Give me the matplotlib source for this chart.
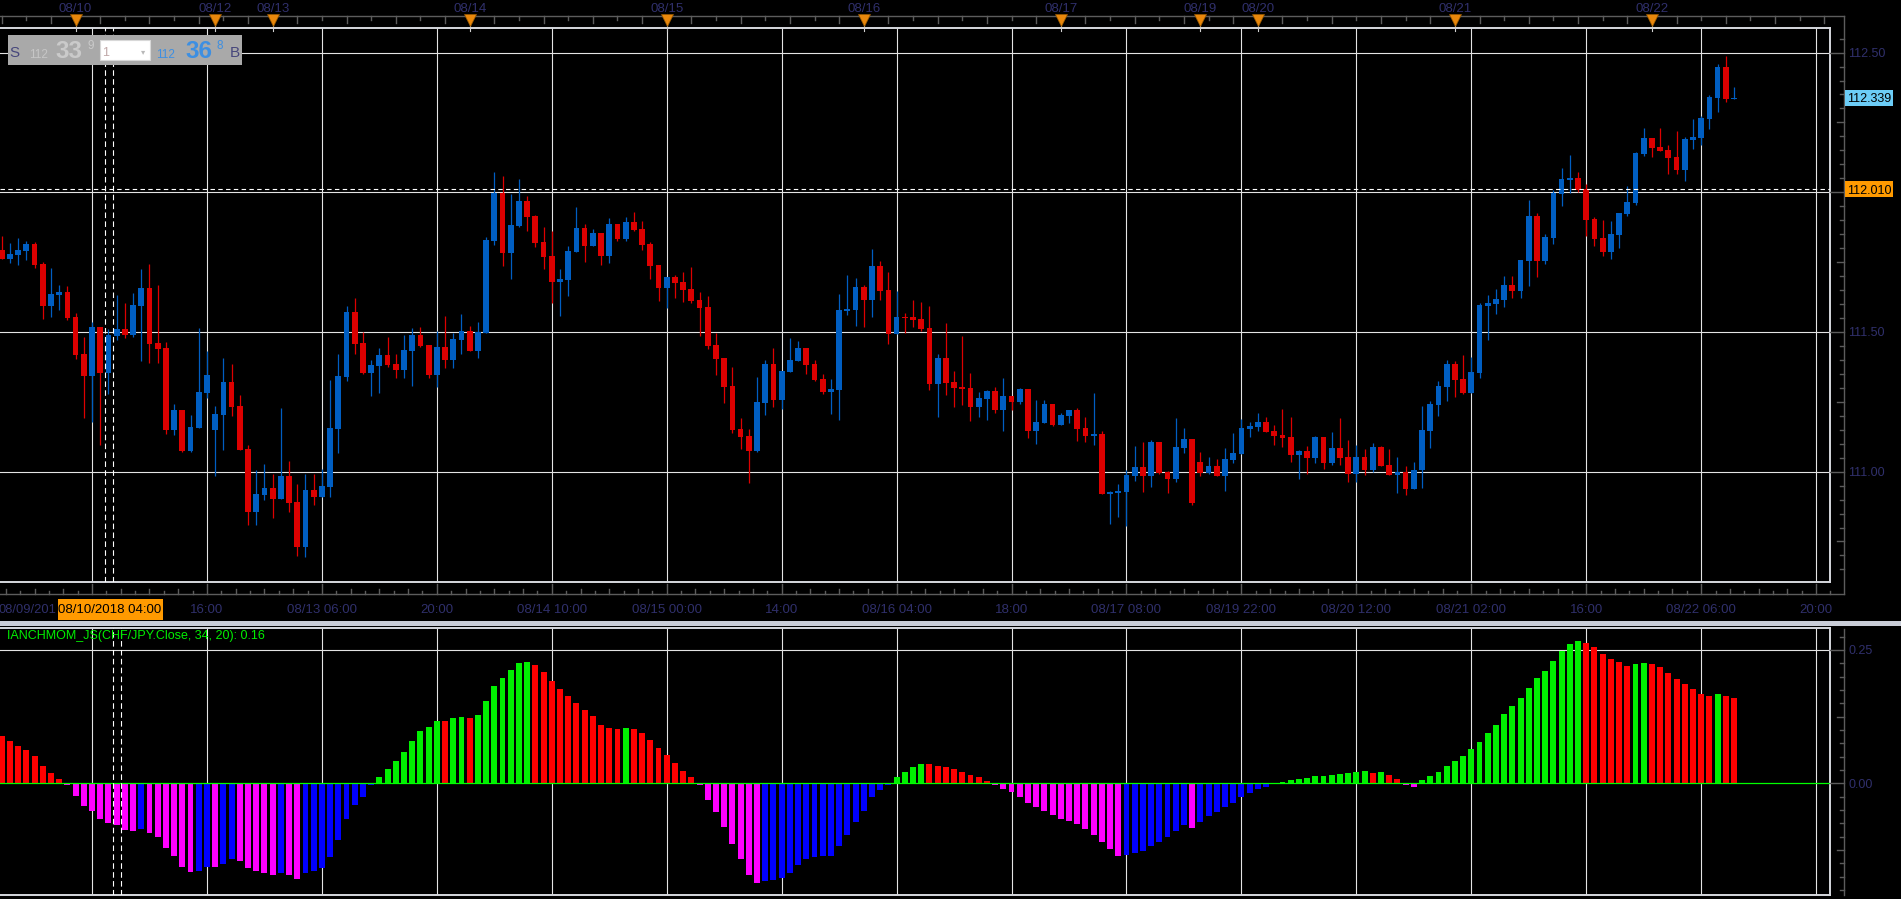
import numpy as np
import matplotlib
matplotlib.use("Agg")
import matplotlib.pyplot as plt
import matplotlib.transforms as mtransforms
from matplotlib.lines import Line2D
from matplotlib.patches import Rectangle

plt.rcParams['font.family'] = ['Liberation Sans', 'DejaVu Sans']

# ---------------- DATA (hourly CHF/JPY candles, index 0 = 08/10 00:00) ----------------
FIRST_INDEX = -9

opens = [
    111.793, 111.761, 111.776, 111.791, 111.815, 111.743, 111.593, 111.632, 111.643, 111.554,
    111.421, 111.342, 111.518, 111.353, 111.486, 111.511, 111.489, 111.593, 111.657, 111.461,
    111.443, 111.149, 111.221, 111.074, 111.156, 111.282, 111.149, 111.203, 111.321, 111.235,
    111.081, 110.856, 110.917, 110.942, 110.902, 110.985, 110.891, 110.730, 110.934, 110.909,
    110.945, 111.153, 111.339, 111.572, 111.461, 111.353, 111.378, 111.418, 111.385, 111.364,
    111.432, 111.489, 111.453, 111.346, 111.446, 111.400, 111.471, 111.504, 111.432, 111.496,
    111.826, 111.999, 111.782, 111.879, 111.968, 111.915, 111.822, 111.771, 111.679, 111.686,
    111.786, 111.872, 111.807, 111.854, 111.771, 111.886, 111.832, 111.893, 111.868, 111.814,
    111.739, 111.657, 111.696, 111.679, 111.653, 111.614, 111.589, 111.453, 111.406, 111.306,
    111.152, 111.127, 111.074, 111.245, 111.385, 111.256, 111.356, 111.396, 111.442, 111.385,
    111.331, 111.285, 111.292, 111.575, 111.578, 111.661, 111.614, 111.736, 111.650, 111.492,
    111.553, 111.554, 111.546, 111.514, 111.314, 111.407, 111.321, 111.303, 111.300, 111.232,
    111.260, 111.289, 111.221, 111.271, 111.249, 111.296, 111.146, 111.174, 111.242, 111.167,
    111.199, 111.221, 111.156, 111.128, 111.135, 110.920, 110.924, 110.927, 110.985, 111.017,
    110.985, 111.106, 110.999, 110.974, 111.085, 111.117, 111.035, 110.995, 111.020, 110.985,
    111.042, 111.063, 111.153, 111.160, 111.178, 111.146, 111.131, 111.124, 111.060, 111.074,
    111.049, 111.124, 111.031, 111.085, 111.053, 110.992, 111.052, 111.006, 111.088, 111.024,
    110.988, 110.999, 110.938, 111.005, 111.145, 111.238, 111.303, 111.385, 111.331, 111.281,
    111.353, 111.593, 111.600, 111.614, 111.668, 111.646, 111.754, 111.915, 111.754, 111.836,
    111.994, 112.044, 112.051, 112.012, 111.904, 111.836, 111.786, 111.847, 111.922, 111.961,
    112.137, 112.194, 112.162, 112.151, 112.126, 112.079, 112.187, 112.194, 112.262, 112.337,
    112.448, 112.334,
]
highs = [
    111.844, 111.817, 111.835, 111.827, 111.821, 111.749, 111.730, 111.668, 111.665, 111.568,
    111.482, 111.536, 111.518, 111.511, 111.632, 111.604, 111.640, 111.725, 111.743, 111.668,
    111.464, 111.242, 111.221, 111.203, 111.514, 111.432, 111.235, 111.407, 111.385, 111.274,
    111.095, 111.006, 111.027, 110.992, 111.228, 111.038, 110.956, 110.992, 110.992, 111.010,
    111.328, 111.421, 111.593, 111.622, 111.500, 111.400, 111.443, 111.482, 111.421, 111.489,
    111.514, 111.518, 111.453, 111.503, 111.557, 111.496, 111.564, 111.521, 111.536, 111.840,
    112.071, 112.058, 111.993, 112.047, 111.986, 111.918, 111.875, 111.861, 111.725, 111.807,
    111.947, 111.886, 111.868, 111.854, 111.908, 111.886, 111.911, 111.929, 111.897, 111.822,
    111.739, 111.696, 111.704, 111.714, 111.732, 111.643, 111.628, 111.496, 111.406, 111.374,
    111.192, 111.152, 111.339, 111.399, 111.442, 111.360, 111.478, 111.467, 111.442, 111.399,
    111.349, 111.331, 111.635, 111.704, 111.693, 111.668, 111.797, 111.754, 111.714, 111.646,
    111.567, 111.614, 111.607, 111.593, 111.421, 111.532, 111.360, 111.486, 111.353, 111.285,
    111.292, 111.303, 111.335, 111.271, 111.300, 111.296, 111.257, 111.257, 111.242, 111.210,
    111.221, 111.228, 111.196, 111.282, 111.146, 110.931, 110.956, 111.006, 111.092, 111.106,
    111.113, 111.106, 111.002, 111.192, 111.156, 111.117, 111.070, 111.053, 111.045, 111.085,
    111.138, 111.189, 111.178, 111.210, 111.196, 111.167, 111.224, 111.196, 111.078, 111.092,
    111.128, 111.124, 111.142, 111.192, 111.113, 111.095, 111.081, 111.102, 111.092, 111.081,
    111.052, 111.020, 111.034, 111.235, 111.253, 111.324, 111.399, 111.396, 111.417, 111.410,
    111.603, 111.632, 111.654, 111.700, 111.700, 111.757, 111.972, 111.925, 111.850, 112.008,
    112.087, 112.133, 112.072, 112.029, 111.911, 111.900, 111.897, 111.925, 112.022, 112.144,
    112.230, 112.194, 112.230, 112.169, 112.219, 112.197, 112.262, 112.273, 112.348, 112.459,
    112.487, 112.376,
]
lows = [
    111.761, 111.746, 111.740, 111.758, 111.730, 111.546, 111.554, 111.579, 111.543, 111.403,
    111.192, 111.178, 111.095, 111.278, 111.471, 111.478, 111.482, 111.396, 111.389, 111.389,
    111.135, 111.131, 111.070, 111.070, 111.156, 111.264, 110.985, 111.078, 111.199, 111.078,
    110.809, 110.809, 110.899, 110.834, 110.902, 110.856, 110.698, 110.695, 110.881, 110.909,
    110.909, 111.067, 111.325, 111.421, 111.350, 111.271, 111.282, 111.375, 111.335, 111.335,
    111.307, 111.446, 111.335, 111.303, 111.371, 111.371, 111.421, 111.432, 111.407, 111.496,
    111.811, 111.736, 111.690, 111.875, 111.861, 111.804, 111.725, 111.603, 111.557, 111.628,
    111.786, 111.750, 111.807, 111.739, 111.746, 111.825, 111.825, 111.861, 111.793, 111.689,
    111.611, 111.585, 111.621, 111.607, 111.603, 111.485, 111.439, 111.346, 111.245, 111.138,
    111.081, 110.959, 111.070, 111.202, 111.231, 111.224, 111.356, 111.396, 111.349, 111.324,
    111.278, 111.206, 111.185, 111.560, 111.521, 111.517, 111.553, 111.614, 111.457, 111.492,
    111.496, 111.518, 111.504, 111.292, 111.196, 111.274, 111.232, 111.239, 111.181, 111.196,
    111.185, 111.210, 111.146, 111.221, 111.242, 111.121, 111.099, 111.174, 111.164, 111.167,
    111.174, 111.110, 111.106, 111.095, 110.920, 110.813, 110.838, 110.806, 110.967, 110.927,
    110.945, 110.992, 110.924, 110.963, 111.067, 110.881, 110.985, 110.992, 110.985, 110.931,
    111.031, 111.063, 111.124, 111.146, 111.142, 111.095, 111.088, 111.035, 110.974, 110.993,
    111.031, 111.010, 111.024, 111.024, 110.963, 110.963, 110.988, 110.999, 111.020, 110.988,
    110.924, 110.916, 110.938, 110.941, 111.085, 111.199, 111.253, 111.267, 111.278, 111.281,
    111.335, 111.471, 111.564, 111.589, 111.621, 111.621, 111.664, 111.696, 111.743, 111.815,
    111.951, 111.997, 112.001, 111.843, 111.807, 111.772, 111.761, 111.800, 111.915, 111.954,
    112.130, 112.126, 112.147, 112.065, 112.065, 112.040, 112.155, 112.169, 112.226, 112.287,
    112.323, 112.334,
]
closes = [
    111.761, 111.779, 111.793, 111.815, 111.740, 111.593, 111.636, 111.643, 111.550, 111.418,
    111.342, 111.518, 111.353, 111.489, 111.511, 111.489, 111.597, 111.657, 111.457, 111.439,
    111.149, 111.221, 111.074, 111.160, 111.285, 111.346, 111.206, 111.321, 111.232, 111.078,
    110.856, 110.920, 110.942, 110.902, 110.985, 110.888, 110.730, 110.934, 110.909, 110.949,
    111.156, 111.342, 111.572, 111.457, 111.353, 111.382, 111.418, 111.382, 111.364, 111.436,
    111.489, 111.450, 111.346, 111.446, 111.400, 111.475, 111.504, 111.432, 111.500, 111.829,
    111.999, 111.782, 111.882, 111.968, 111.911, 111.818, 111.768, 111.679, 111.689, 111.789,
    111.872, 111.807, 111.854, 111.771, 111.886, 111.832, 111.893, 111.865, 111.811, 111.736,
    111.657, 111.696, 111.675, 111.650, 111.611, 111.585, 111.449, 111.403, 111.303, 111.149,
    111.124, 111.074, 111.249, 111.385, 111.256, 111.360, 111.399, 111.442, 111.381, 111.328,
    111.285, 111.295, 111.578, 111.582, 111.661, 111.614, 111.736, 111.646, 111.492, 111.553,
    111.550, 111.543, 111.511, 111.314, 111.407, 111.317, 111.300, 111.296, 111.232, 111.264,
    111.289, 111.221, 111.271, 111.249, 111.296, 111.146, 111.178, 111.242, 111.167, 111.203,
    111.221, 111.153, 111.128, 111.135, 110.920, 110.927, 110.931, 110.988, 111.017, 110.985,
    111.106, 110.995, 110.974, 111.088, 111.117, 110.888, 110.995, 111.020, 110.985, 111.045,
    111.067, 111.156, 111.164, 111.178, 111.142, 111.128, 111.121, 111.060, 111.074, 111.049,
    111.124, 111.031, 111.085, 111.049, 110.992, 111.052, 111.006, 111.088, 111.020, 110.988,
    110.999, 110.938, 111.006, 111.149, 111.242, 111.306, 111.385, 111.328, 111.281, 111.356,
    111.596, 111.603, 111.618, 111.668, 111.646, 111.757, 111.915, 111.754, 111.840, 111.997,
    112.047, 112.051, 112.008, 111.900, 111.833, 111.786, 111.850, 111.925, 111.965, 112.140,
    112.194, 112.158, 112.147, 112.122, 112.079, 112.190, 112.197, 112.266, 112.341, 112.448,
    112.334, 112.339,
]

# momentum histogram, same bars as candles
hist_values = [
    0.089, 0.079, 0.070, 0.0625, 0.051, 0.0325, 0.019, 0.008, -0.004, -0.023,
    -0.042, -0.051, -0.067, -0.074, -0.079, -0.087, -0.089, -0.085, -0.0925, -0.100,
    -0.121, -0.136, -0.156, -0.166, -0.164, -0.156, -0.157, -0.151, -0.141, -0.145,
    -0.158, -0.164, -0.1675, -0.171, -0.169, -0.171, -0.179, -0.169, -0.164, -0.158,
    -0.1375, -0.106, -0.066, -0.040, -0.025, -0.004, 0.011, 0.0275, 0.0425, 0.059,
    0.080, 0.099, 0.106, 0.1175, 0.117, 0.123, 0.125, 0.123, 0.129, 0.155,
    0.183, 0.198, 0.213, 0.226, 0.227, 0.221, 0.209, 0.1925, 0.176, 0.164,
    0.151, 0.138, 0.127, 0.110, 0.104, 0.101, 0.104, 0.1025, 0.095, 0.082,
    0.067, 0.054, 0.039, 0.024, 0.011, -0.004, -0.031, -0.053, -0.081, -0.113,
    -0.141, -0.171, -0.186, -0.1825, -0.181, -0.177, -0.1675, -0.1525, -0.141, -0.1375,
    -0.136, -0.1355, -0.117, -0.096, -0.072, -0.051, -0.025, -0.013, -0.004, 0.012,
    0.022, 0.030, 0.037, 0.036, 0.033, 0.030, 0.026, 0.022, 0.016, 0.011,
    0.005, -0.003, -0.010, -0.016, -0.026, -0.036, -0.045, -0.052, -0.060, -0.066,
    -0.071, -0.077, -0.085, -0.096, -0.110, -0.124, -0.136, -0.134, -0.130, -0.126,
    -0.118, -0.110, -0.100, -0.090, -0.078, -0.083, -0.072, -0.062, -0.054, -0.045,
    -0.036, -0.026, -0.018, -0.011, -0.006, -0.002, 0.003, 0.006, 0.008, 0.010,
    0.013, 0.014, 0.016, 0.018, 0.019, 0.021, 0.023, 0.020, 0.022, 0.015,
    0.009, -0.004, -0.007, 0.006, 0.014, 0.022, 0.032, 0.041, 0.052, 0.064,
    0.078, 0.095, 0.110, 0.130, 0.145, 0.160, 0.178, 0.1975, 0.2106, 0.2293,
    0.248, 0.261, 0.2668, 0.263, 0.2556, 0.2425, 0.2331, 0.2275, 0.220, 0.2237,
    0.2256, 0.2237, 0.2181, 0.2068, 0.196, 0.186, 0.177, 0.168, 0.163, 0.167,
    0.163, 0.160,
]
# R = positive falling, G = positive rising, M = negative falling, B = negative rising
hist_colors = (
    "RRRRRRRRMM" "MMMMMMMBMM" "MMMMBBMBBM" "MMMMBMMBBB" "BBBBBBGGGG"
    "GGGGRGGRGG" "GGGGGRRRRR" "RRRRRRGRRR" "RRRRRMMMMM" "MMMBBBBBBB"
    "BBBBBBBBBG" "GGGRRRRRRR" "RMMMMMMMMM" "MMMMMMMBBB" "BBBBBMBBBB"
    "BBBBBBGGGG" "GGGGGGGRGR" "RMMGGGGGGG" "GGGGGGGGGG" "GGGRRRRRRG"
    "GRRRRRRRRG" "RR"
)

price_grid = [111.00, 111.50, 112.00, 112.50]
price_labels = ["111.00", "111.50", "", "112.50"]   # 112.00 is hidden under the crosshair tag
osc_grid = [0.00, 0.25]
grid_index = list(range(2, 213, 14))
time_labels = ["", "16:00", "08/13 06:00", "20:00", "08/14 10:00", "08/15 00:00",
               "14:00", "08/16 04:00", "18:00", "08/17 08:00", "08/19 22:00",
               "08/20 12:00", "08/21 02:00", "16:00", "08/22 06:00", "20:00"]
day_index = [0, 17, 24, 48, 72, 96, 120, 137, 144, 168, 192]
day_labels = ["08/10", "08/12", "08/13", "08/14", "08/15", "08/16", "08/17",
              "08/19", "08/20", "08/21", "08/22"]
first_time_label = "08/09/201"
cross_index = 4
cross_time_label = "08/10/2018 04:00"
cross_price = 112.010
indicator_name = "IANCHMOM_JS(CHF/JPY.Close, 34, 20)"

# ---------------- STYLE ----------------
W, H = 1901, 899
BG = 'black'
FRAME = '#d6d8de'
GRID = '#e4e4e4'
AXIS = '#5c5c5c'
LABEL = '#30306c'
RED = '#dd0000'
BLUE = '#005ec2'
HCOL = {'R': '#ff0000', 'G': '#00f000', 'M': '#ff00ff', 'B': '#0000ff'}


def fx(px):
    return px / W


def fy(py):
    return 1.0 - py / H


fig = plt.figure(figsize=(W / 100, H / 100), dpi=100, facecolor=BG)

X_LEFT = (0 - 75.6) / 8.21
X_RIGHT = (1830 - 75.6) / 8.21
X_AXIS_END = (1844 - 75.6) / 8.21

ax = fig.add_axes([0, fy(582), fx(1830), (582 - 28) / H], facecolor=BG)
ax2 = fig.add_axes([0, fy(895), fx(1830), (895 - 628) / H], facecolor=BG)
for a in (ax, ax2):
    a.set_xticks([])
    a.set_yticks([])
    for s in ('top', 'right', 'bottom'):
        a.spines[s].set_color(FRAME)
        a.spines[s].set_linewidth(1.4)
    a.spines['left'].set_visible(False)

idx = np.arange(FIRST_INDEX, FIRST_INDEX + len(opens))
o = np.array(opens)
h = np.array(highs)
l = np.array(lows)
c = np.array(closes)
up = c >= o
ccol = np.where(up, BLUE, RED)

# grid
for g in grid_index:
    ax.axvline(g, color=GRID, lw=0.8, zorder=1)
    ax2.axvline(g, color=GRID, lw=0.8, zorder=1)
for p in price_grid:
    ax.axhline(p, color=GRID, lw=0.8, zorder=1)
ax2.axhline(osc_grid[1], color=GRID, lw=0.8, zorder=1)

# candles
ax.vlines(idx, l, h, colors=ccol, lw=0.9, zorder=3)
ax.bar(idx, np.maximum(np.abs(c - o), 0.004), bottom=np.minimum(o, c), width=0.7,
       color=ccol, lw=0, zorder=4)

# histogram
ax2.bar(idx, hist_values, width=0.72, color=[HCOL[k] for k in hist_colors], lw=0, zorder=3)
ax2.axhline(osc_grid[0], color='#00ff00', lw=0.9, zorder=5)

# crosshair
ax.axhline(cross_price, color='white', lw=0.8, ls=(0, (4, 3)), zorder=6)
for xv in (cross_index - 0.4, cross_index + 0.58):
    ax.axvline(xv, color='white', lw=0.8, ls=(0, (5, 3)), zorder=6)
for xv in (cross_index + 0.6, cross_index + 1.55):
    ax2.axvline(xv, color='white', lw=0.8, ls=(0, (5, 3)), zorder=6)

ax.set_xlim(X_LEFT, X_RIGHT)
ax2.set_xlim(X_LEFT, X_RIGHT)
ax.set_ylim(110.605, 112.588)
ax2.set_ylim(-0.2094, 0.2912)

# ---------------- axes decorations ----------------
tp = mtransforms.blended_transform_factory(fig.transFigure, ax.transData)
to = mtransforms.blended_transform_factory(fig.transFigure, ax2.transData)
tx = mtransforms.blended_transform_factory(ax.transData, fig.transFigure)


def fline(xs, ys, tr=fig.transFigure, **kw):
    fig.add_artist(Line2D(xs, ys, transform=tr, **kw))


# axis lines
fline([fx(1844), fx(1844)], [fy(16), fy(594)], color=AXIS, lw=1)
fline([fx(1844), fx(1844)], [fy(629), fy(895)], color=AXIS, lw=1)
fline([0, fx(1844)], [fy(16), fy(16)], color=AXIS, lw=1)
fline([0, fx(1844)], [fy(594), fy(594)], color=AXIS, lw=1)

# price ticks
for k in range(0, 40):
    p = round(110.65 + 0.05 * k, 2)
    if p > 112.58:
        break
    if abs(p * 2 - round(p * 2)) < 1e-6:
        x0 = 1830
    elif abs(p * 4 - round(p * 4)) < 1e-6:
        x0 = 1837
    else:
        x0 = 1840
    fline([fx(x0), fx(1844)], [p, p], tr=tp, color=AXIS, lw=1)
for p, lab in zip(price_grid, price_labels):
    if lab:
        fig.text(fx(1848), p, lab, transform=tp, color=LABEL, fontsize=9,
                 va='center_baseline', ha='left')

# oscillator ticks
for k in range(0, 30):
    v = round(-0.200 + 0.025 * k, 3)
    if v > 0.29:
        break
    if abs(v * 4 - round(v * 4)) < 1e-6:
        x0 = 1830
    elif abs(v * 8 - round(v * 8)) < 1e-6:
        x0 = 1837
    else:
        x0 = 1840
    fline([fx(x0), fx(1844)], [v, v], tr=to, color=AXIS, lw=1)
for v in osc_grid:
    fig.text(fx(1848), v, f"{v:.2f}", transform=to, color=LABEL, fontsize=9,
             va='center_baseline', ha='left')

# price tags
last = closes[-1]
half = 8 / 279.4
fig.add_artist(Rectangle((fx(1845), last - half), fx(48), 2 * half, transform=tp,
                         fc='#6ccdf7', ec='none', zorder=8))
fig.text(fx(1847), last, f"{last:.3f}", transform=tp, color='black', fontsize=9,
         va='center_baseline', ha='left', zorder=9)
fig.add_artist(Rectangle((fx(1845), cross_price - half), fx(48), 2 * half, transform=tp,
                         fc='#ff9a00', ec='none', zorder=8))
fig.text(fx(1847), cross_price, f"{cross_price:.3f}", transform=tp, color='black',
         fontsize=9, va='center_baseline', ha='left', zorder=9)

# top axis: ticks, day markers, labels
t = -9
n = 0
while t <= X_AXIS_END:
    ln = 7 if n % 2 == 0 else 4
    fline([t, t], [fy(16), fy(16 + ln)], tr=tx, color=AXIS, lw=1)
    t += 3
    n += 1
for d, lab in zip(day_index, day_labels):
    fline([d, d], [fy(23), fy(31)], tr=tx, color='#d0d0d0', lw=0.8, zorder=3)
    fig.add_artist(Line2D([d], [fy(20)], transform=tx, marker='v', ms=8, ls='none',
                          color='#e8870c', mec='#9a5a00', mew=0.5, zorder=4))
    fig.text(d, fy(11.5), lab, transform=tx, color=LABEL, fontsize=9.5,
             ha='center', va='baseline')

# bottom axis: ticks and time labels
for g in range(grid_index[0] - 14, 213, 14):
    for k in range(8):
        xv = g + k * 1.75
        if xv < X_LEFT or xv > X_AXIS_END:
            continue
        y0 = 584 if k == 0 else (589 if k % 2 == 0 else 591)
        fline([xv, xv], [fy(y0), fy(594)], tr=tx, color=AXIS, lw=1)
for g, lab in zip(grid_index, time_labels):
    if lab:
        fig.text(g, fy(613), lab, transform=tx, color=LABEL, fontsize=9.5,
                 ha='center', va='baseline')
fig.text(fx(-1.5), fy(613), first_time_label, color=LABEL, fontsize=9.3,
         ha='left', va='baseline')
fig.add_artist(Rectangle((fx(57.5), fy(620)), fx(105.5), 21 / H, fc='#ff9a00', ec='none',
                         zorder=10))
fig.text(fx(110), fy(613), cross_time_label, color='black', fontsize=9.5,
         ha='center', va='baseline', zorder=11)

# separator between panels
fig.add_artist(Rectangle((0, fy(625.5)), 1, 4.5 / H, fc='#c9cdd7', ec='none', zorder=5))

# indicator label
fig.text(fx(7), fy(639.5), f"{indicator_name}: {hist_values[-1]:.2f}", color='#00f000',
         fontsize=9, ha='left', va='baseline', zorder=7)

# ---------------- trade widget (top-left) ----------------
fig.add_artist(Rectangle((fx(8), fy(65)), fx(234), 30 / H, fc='#a9a9a9', ec='none', zorder=12))
fig.add_artist(Rectangle((fx(100), fy(60)), fx(50), 20 / H, fc='white', ec='#d8d8d8',
                         lw=0.8, zorder=13))
WT = dict(zorder=14, va='baseline')
fig.text(fx(9), fy(57), "S", color='#47477c', fontsize=11, **WT)
fig.text(fx(29), fy(57.5), "112", color='#c6c6c6', fontsize=8.5, **WT)
fig.text(fx(55), fy(58.5), "33", color='#cacaca', fontsize=17.5, fontweight='bold', **WT)
fig.text(fx(87), fy(49), "9", color='#cacaca', fontsize=8.5, **WT)
fig.text(fx(102), fy(56), "1", color='#c0a8a8', fontsize=9, **WT)
fig.text(fx(141), fy(54), "\u25be", color='#b8b8b8', fontsize=6, family='DejaVu Sans', **WT)
fig.text(fx(156), fy(57.5), "112", color='#3d8fe2', fontsize=8.5, **WT)
fig.text(fx(185), fy(58.5), "36", color='#3d8fe2', fontsize=17.5, fontweight='bold', **WT)
fig.text(fx(216), fy(49), "8", color='#3d8fe2', fontsize=8.5, **WT)
fig.text(fx(230), fy(57), "B", color='#47477c', fontsize=11, **WT)

fig.savefig("out.png", dpi=100, facecolor=BG)
